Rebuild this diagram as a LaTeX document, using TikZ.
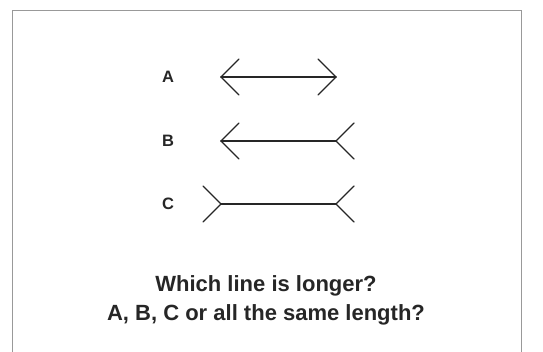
\documentclass[tikz,border=0pt]{standalone}
\usepackage{fontspec}
\setmainfont{Liberation Sans}
\usepackage{tikz}
\usetikzlibrary{positioning, calc}
\tikzstyle{shaft} = [line width=1.4pt, line cap=round, color=black!85]
\tikzstyle{letter} = [font=\fontsize{16.5}{20}\selectfont\bfseries, text=black!85, inner sep=0pt]
\tikzstyle{question} = [font=\fontsize{22}{26}\selectfont\bfseries, text=black!85, anchor=base, inner sep=0pt]

\begin{document}
\begin{tikzpicture}[x=1pt, y=-1pt]
    \useasboundingbox (0,0) rectangle (543,351);

    % Rahmen
    \draw [black!40, line width=1pt] (12.5,352) -- (12.5,10) -- (521.5,10) -- (521.5,352);

    % Buchstaben
    \node (la) [letter] at (168,77) {A};
    \node (lb) [letter] at (168,141) {B};
    \node (lc) [letter] at (168,204) {C};

    % Enden der Linien
    \coordinate (a1) at (221,77);
    \coordinate (a2) at (336,77);
    \coordinate (b1) at (221,141);
    \coordinate (b2) at (336,141);
    \coordinate (c1) at (221,204);
    \coordinate (c2) at (336,204);

    % Linie A
    \draw [shaft] (a1) -- (a2);
    \draw [shaft] ($(a1)+(18,-18)$) -- (a1) -- ($(a1)+(18,18)$);
    \draw [shaft] ($(a2)+(-18,-18)$) -- (a2) -- ($(a2)+(-18,18)$);

    % Linie B
    \draw [shaft] (b1) -- (b2);
    \draw [shaft] ($(b1)+(18,-18)$) -- (b1) -- ($(b1)+(18,18)$);
    \draw [shaft] ($(b2)+(18,-18)$) -- (b2) -- ($(b2)+(18,18)$);

    % Linie C
    \draw [shaft] (c1) -- (c2);
    \draw [shaft] ($(c1)+(-18,-18)$) -- (c1) -- ($(c1)+(-18,18)$);
    \draw [shaft] ($(c2)+(18,-18)$) -- (c2) -- ($(c2)+(18,18)$);

    % Frage
    \node (q1) [question] at (266,291.7) {Which line is longer?};
    \node (q2) [question] at ([yshift=-29pt]q1.base) {A, B, C or all the same length?};
\end{tikzpicture}
\end{document}
